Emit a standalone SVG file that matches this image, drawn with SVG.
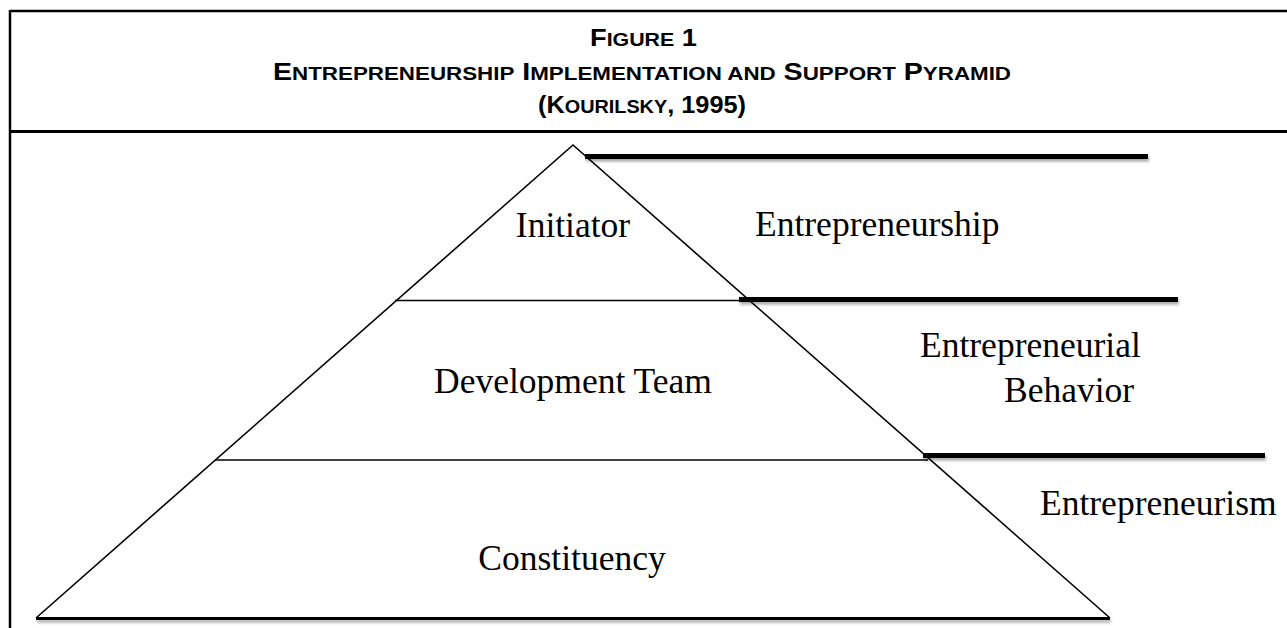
<svg xmlns="http://www.w3.org/2000/svg" width="1287" height="628" viewBox="0 0 1287 628">
<defs>
<style>
.frame{stroke:#000;fill:none}
.hd{font-family:"Liberation Sans",Arial,sans-serif;font-weight:bold;fill:#000}
.big{font-size:23px}
.sm{font-size:18px}
.lbl{font-family:"Liberation Serif","Times New Roman",serif;font-size:35.5px;fill:#000}
.thin{stroke:#000;stroke-width:1.6;fill:none}
.thick{stroke:#000;stroke-width:5;fill:none;filter:url(#sh)}
</style>
<filter id="sh" filterUnits="userSpaceOnUse" x="0" y="0" width="1287" height="628">
<feDropShadow dx="1" dy="2.5" stdDeviation="1.8" flood-color="#000" flood-opacity="0.35"/>
</filter>
</defs>
<rect width="1287" height="628" fill="#fff"/>
<g id="frame">
<line class="frame" x1="10" y1="11" x2="1287" y2="11" stroke-width="2.5"/>
<line class="frame" x1="10" y1="10" x2="10" y2="628" stroke-width="2.5"/>
<line class="frame" x1="10" y1="131.5" x2="1287" y2="131.5" stroke-width="3"/>
</g>
<g id="title">
<text class="hd" x="643.5" y="46" text-anchor="middle" textLength="107" lengthAdjust="spacingAndGlyphs"><tspan class="big">F</tspan><tspan class="sm">IGURE</tspan><tspan class="big"> 1</tspan></text>
<text class="hd" x="642" y="80" text-anchor="middle" textLength="738" lengthAdjust="spacingAndGlyphs"><tspan class="big">E</tspan><tspan class="sm">NTREPRENEURSHIP</tspan><tspan class="big"> I</tspan><tspan class="sm">MPLEMENTATION AND</tspan><tspan class="big"> S</tspan><tspan class="sm">UPPORT</tspan><tspan class="big"> P</tspan><tspan class="sm">YRAMID</tspan></text>
<text class="hd" x="642" y="113" text-anchor="middle" textLength="208" lengthAdjust="spacingAndGlyphs"><tspan class="big">(K</tspan><tspan class="sm">OURILSKY</tspan><tspan class="big">, 1995)</tspan></text>
</g>
<g id="pyramid">
<polyline class="thin" points="36,618 573,145 1110,618"/>
<line x1="36" y1="618.5" x2="1110" y2="618.5" stroke="#000" stroke-width="3" filter="url(#sh)"/>
</g>
<g id="tier-initiator">
<text class="lbl" x="573" y="237" text-anchor="middle">Initiator</text>
</g>
<g id="tier-development-team">
<line class="thin" x1="395" y1="300.5" x2="750" y2="300.5"/>
<text class="lbl" x="573" y="393" text-anchor="middle">Development Team</text>
</g>
<g id="tier-constituency">
<line class="thin" x1="215" y1="460" x2="928" y2="460"/>
<text class="lbl" x="572" y="570" text-anchor="middle">Constituency</text>
</g>
<g id="connectors">
<line class="thick" x1="585" y1="156.5" x2="1148" y2="156.5"/>
<line class="thick" x1="739" y1="299.5" x2="1178" y2="299.5"/>
<line class="thick" x1="923" y1="455.5" x2="1265" y2="455.5"/>
</g>
<g id="level-entrepreneurship">
<text class="lbl" x="755" y="236">Entrepreneurship</text>
</g>
<g id="level-entrepreneurial-behavior">
<text class="lbl" x="920" y="357">Entrepreneurial</text>
<text class="lbl" x="1004" y="402">Behavior</text>
</g>
<g id="level-entrepreneurism">
<text class="lbl" x="1040" y="515">Entrepreneurism</text>
</g>
</svg>
